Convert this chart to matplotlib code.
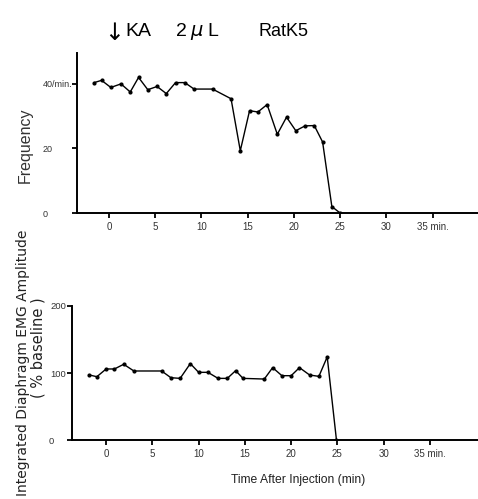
import matplotlib
matplotlib.use("Agg")
import matplotlib.pyplot as plt
import matplotlib.transforms as mtransforms

plt.rcParams['font.family'] = ['Liberation Sans', 'DejaVu Sans']

# Top panel: frequency (breaths/min)
freq_t = [-1.6, -0.8, 0.2, 1.3, 2.3, 3.2, 4.2, 5.2, 6.2, 7.2, 8.2, 9.2, 11.2,
          13.2, 14.2, 15.2, 16.1, 17.1, 18.2, 19.2, 20.2, 21.2, 22.2, 23.1, 24.1, 25.0]
freq_v = [40.4, 41.1, 38.9, 40.0, 37.5, 42.0, 38.2, 39.2, 37.0, 40.4, 40.4, 38.4, 38.4,
          35.4, 19.3, 31.7, 31.3, 33.6, 24.4, 29.7, 25.5, 27.0, 27.1, 22.0, 2.0, 0.0]

# Bottom panel: EMG amplitude (% baseline)
emg_t = [-1.8, -1.0, 0.0, 0.9, 1.9, 3.0, 6.0, 7.0, 8.0, 9.1, 10.0, 11.0, 12.1, 13.1,
         14.0, 14.8, 17.1, 18.0, 19.0, 20.0, 20.9, 22.0, 23.0, 23.9, 24.9]
emg_v = [97, 94.5, 106, 106, 113, 103, 103, 93, 92, 114, 101, 101, 92, 92,
         103.5, 92, 91, 108, 96, 96, 108, 97, 95, 124, 0]

x_ticks = [0, 5, 10, 15, 20, 25, 30, 35]
x_ticklabels = ['0', '5', '10', '15', '20', '25', '30', '35 min.']
freq_ticks = [0, 20, 40]
freq_ticklabels = ['0', '20', '40/min.']
emg_ticks = [0, 100, 200]
emg_ticklabels = ['0', '100', '200']

fig = plt.figure(figsize=(4.78, 4.99), dpi=100)

def style(ax):
    for s in ['top', 'right']:
        ax.spines[s].set_visible(False)
    for s in ['left', 'bottom']:
        ax.spines[s].set_linewidth(1.4)
        ax.spines[s].set_color('black')
    ax.tick_params(axis='both', direction='out', length=3.6, width=1.3,
                   labelsize=7, colors='black', pad=2.5)
    ax.set_xticks(x_ticks)
    ax.set_xticklabels(x_ticklabels, color='#333333')

ax1 = fig.add_axes([0.161, 0.573, 0.839, 0.321])
ax1.plot(freq_t, freq_v, color='black', lw=1.0, marker='o', ms=2.0)
ax1.set_xlim(-3.46, 39.9)
ax1.set_ylim(0, 49.6)
style(ax1)
ax1.set_yticks(freq_ticks)
ax1.set_yticklabels(freq_ticklabels, color='#333333', ha='left', fontsize=6.5)
ax1.tick_params(axis='y', pad=21)

ax2 = fig.add_axes([0.151, 0.118, 0.849, 0.269])
ax2.plot(emg_t, emg_v, color='black', lw=1.0, marker='o', ms=2.0)
ax2.set_xlim(-3.67, 40.2)
ax2.set_ylim(0, 200)
style(ax2)
ax2.set_yticks(emg_ticks)
ax2.set_yticklabels(emg_ticklabels, color='#333333', fontsize=6.8)
ax2.tick_params(axis='y', pad=0.5)
lbl0 = ax2.get_yticklabels()[0]
lbl0.set_transform(lbl0.get_transform() +
                   mtransforms.ScaledTranslation(-0.13, 0, fig.dpi_scale_trans))

fig.text(0.624, 0.038, 'Time After Injection (min)', fontsize=8.7,
         ha='center', va='center', color='#222222')

fig.text(0.052, 0.709, 'Frequency', rotation=90, fontsize=11.5,
         ha='center', va='center', color='#333333')
fig.text(0.048, 0.273, 'Integrated Diaphragm EMG Amplitude', rotation=90,
         fontsize=10, family=['DejaVu Sans'], ha='center', va='center',
         color='#222222')
fig.text(0.080, 0.303, '( % baseline )', rotation=90,
         fontsize=10.5, family=['DejaVu Sans'], ha='center', va='center',
         color='#222222')

base_y = 0.928
fig.text(0.217, base_y - 0.008, '\u2193', fontsize=17, family=['DejaVu Sans'],
         ha='left', va='baseline')
fig.text(0.262, base_y, 'KA', fontsize=14, ha='left', va='baseline')
fig.text(0.368, base_y, '2', fontsize=14, ha='left', va='baseline')
fig.text(0.397, base_y, r'$\mu$', fontsize=14, ha='left', va='baseline')
fig.text(0.433, base_y, 'L', fontsize=14, ha='left', va='baseline')
fig.text(0.540, base_y, 'RatK5', fontsize=13, ha='left', va='baseline')

fig.savefig('out.png', dpi=100)
